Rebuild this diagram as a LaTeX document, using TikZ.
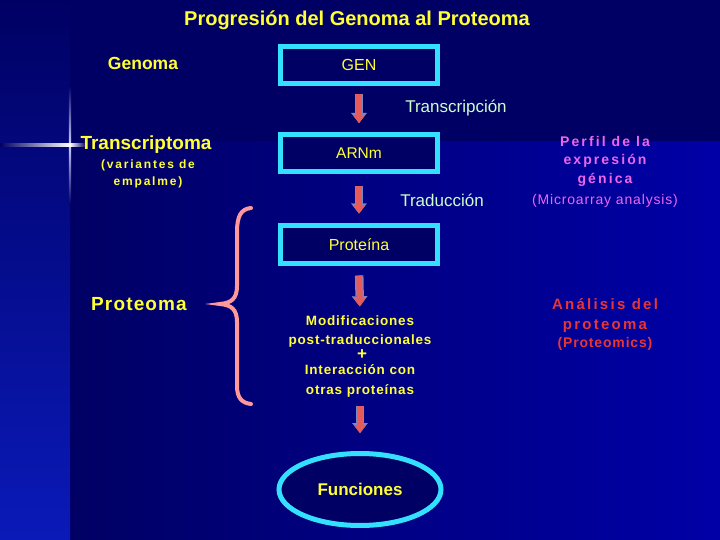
\documentclass[tikz,border=0pt]{standalone}
\usepackage{fontspec}
\setmainfont{Liberation Sans}
\newfontfamily\spacedfont[LetterSpace=6]{Liberation Sans}
\newfontfamily\widefont[LetterSpace=15]{Liberation Sans}
\usepackage{xcolor}
\usetikzlibrary{arrows.meta, positioning, shapes.geometric}

\definecolor{bgdark}{HTML}{000064}
\definecolor{bgblue}{HTML}{0000A6}
\definecolor{stripbot}{HTML}{0A1AB8}
\definecolor{txtyellow}{HTML}{FFFF33}
\definecolor{txtgreen}{HTML}{CCFFCC}
\definecolor{boxcyan}{HTML}{33E0FF}
\definecolor{arrowred}{HTML}{E65A5A}
\definecolor{arrowrim}{HTML}{7A86C8}
\definecolor{bracepink}{HTML}{FF9999}
\definecolor{txtviolet}{HTML}{EE66EE}
\definecolor{txtred}{HTML}{E83535}

\begin{document}
\begin{tikzpicture}[
        x=1pt, y=-1pt,
        box/.style={rectangle, draw=boxcyan, line width=5pt, fill=bgdark, minimum width=157pt, minimum height=37pt, text=txtyellow, font=\fontsize{16}{18}\selectfont},
        headtxt/.style={text=txtyellow, font=\bfseries\fontsize{19}{22}\selectfont},
        steptxt/.style={text=txtgreen, font=\fontsize{17}{20}\selectfont},
        modtxt/.style={text=txtyellow, align=center, inner sep=0pt, font=\spacedfont\bfseries\fontsize{13.5}{19.5}\selectfont},
        rimarrow/.style={line width=8.5pt, draw=arrowrim, -{Triangle[width=15.5pt, length=10pt, line width=0.1pt]}},
        corearrow/.style={line width=6pt, draw=arrowred, -{Triangle[width=12pt, length=8pt, line width=0.1pt]}}
    ]
        \useasboundingbox (0,0) rectangle (720,540);
        % background
        \fill[bgdark] (70,0) rectangle (720,142);
        \shade[left color=bgdark, right color=bgblue] (70,142) rectangle (720,540);
        \shade[top color=bgdark, bottom color=stripbot] (0,0) rectangle (70,540);
        \shade[top color=bgdark, bottom color=bgdark, middle color=white!80!blue] (68.8,85) rectangle (71.2,205);
        \shade[left color=bgdark, right color=white] (0,144) rectangle (70,146.2);
        \shade[left color=white, right color=bgdark] (70,144) rectangle (86,146.2);

        \node[text=txtyellow, font=\bfseries\fontsize{20}{23}\selectfont] (title) at (357,20) {Progresión del Genoma al Proteoma};
        \node[headtxt, font=\bfseries\fontsize{17.5}{20}\selectfont] (genoma) at (143,63) {Genoma};
        \node[box] (gen) at (359,65) {GEN};
        \node[steptxt] (transcr) at (456,108) {Transcripción};

        \node[headtxt] (transcriptoma) at (146,145) {Transcriptoma};
        \node[modtxt, font=\widefont\bfseries\fontsize{12}{17}\selectfont] (empalme) at (148,173.5) {(variantes de\\empalme)};
        \node[box, font=\fontsize{15.5}{18}\selectfont] (arnm) at (359,153) {ARNm};
        \node[steptxt] (traduc) at (442,200) {Traducción};
        \node[box] (prot) at (359,244.5) {Proteína};

        \node[text=txtviolet, align=center, font=\widefont\bfseries\fontsize{14}{18.5}\selectfont] (perfil) at (605,161) {Perfil de la\\expresión\\génica};
        \node[text=txtviolet, font=\spacedfont\fontsize{14}{17}\selectfont] (micro) at (605,201) {(Microarray analysis)};

        \node[headtxt, font=\spacedfont\bfseries\fontsize{19}{22}\selectfont] (proteoma) at (139,304) {Proteoma};
        \node[modtxt] (modA) at (360,331.5) {Modificaciones\\post-traduccionales};
        \node[modtxt, font=\bfseries\fontsize{17}{18}\selectfont] (plus) at (362,355) {+};
        \node[modtxt] (modB) at (360,381) {Interacción con\\otras proteínas};

        \node[text=txtred, align=center, font=\widefont\bfseries\fontsize{15}{20}\selectfont] (analisis) at (605,316) {Análisis del\\proteoma};
        \node[text=txtred, font=\spacedfont\bfseries\fontsize{14}{17}\selectfont] (proteomics) at (605,344) {(Proteomics)};

        \node[ellipse, draw=boxcyan, line width=5pt, fill=bgdark, minimum width=162pt, minimum height=72pt, text=txtyellow, font=\bfseries\fontsize{17}{20}\selectfont] (func) at (360,489.5) {Funciones};

        \draw[bracepink, line width=4pt, line cap=round] (251,208) .. controls (241,209) and (237,216) .. (237,232) -- (237,286) .. controls (237,299) and (231,303) .. (220,304) .. controls (231,305) and (237,309) .. (237,322) -- (237,386) .. controls (237,398) and (242,403) .. (251,404);

        \foreach \a/\b/\s/\e in {gen/arnm/8/9, arnm/prot/12/10, prot/modA/10/9, modB/func/9/18} {
            \draw[rimarrow, shorten <=\s pt, shorten >=\e pt] (\a.south) -- (\b.north);
            \draw[corearrow, shorten <=\s pt, shorten >=\e pt] (\a.south) -- (\b.north);
        }
    \end{tikzpicture}
\end{document}
